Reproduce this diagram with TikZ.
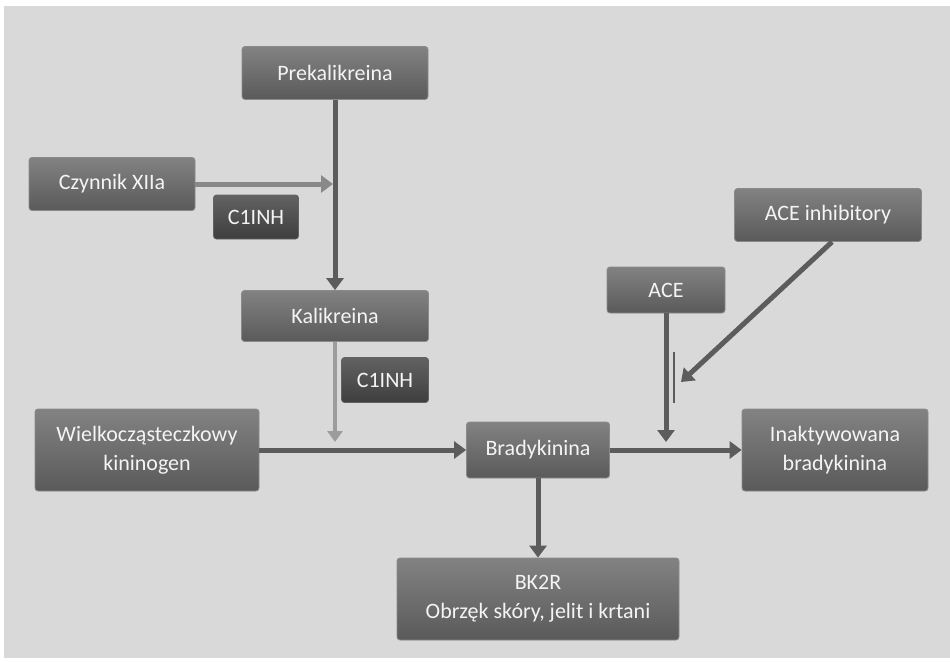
\documentclass[tikz,border=0pt]{standalone}
\usepackage{fontspec}
\setmainfont{Carlito}
\usetikzlibrary{arrows.meta}
\definecolor{bg}{HTML}{D9D9D9}
\definecolor{boxtop}{HTML}{828282}
\definecolor{boxbot}{HTML}{5A5A5A}
\definecolor{boxedge}{HTML}{8A8A8A}
\definecolor{darktop}{HTML}{626262}
\definecolor{darkbot}{HTML}{3E3E3E}
\definecolor{boxtext}{HTML}{F4F4F4}
\definecolor{arrdark}{HTML}{5C5C5C}
\definecolor{arrmid}{HTML}{898989}
\definecolor{arrlight}{HTML}{9C9C9C}
\begin{document}
\begin{tikzpicture}[x=1pt,y=-1pt,
  box/.style={rounded corners=3pt, draw=boxedge, line width=0.8pt, top color=boxtop, bottom color=boxbot, text=boxtext, font=\fontsize{22}{29}\selectfont, align=center, inner sep=0pt},
  inhbox/.style={box, draw=darktop, top color=darktop, bottom color=darkbot},
  arr/.style={draw=arrdark, line width=5pt, -{Triangle[width=17pt,length=12pt]}},
  arrm/.style={draw=arrmid, line width=5pt, -{Triangle[width=17pt,length=12pt]}},
  arrl/.style={draw=arrlight, line width=4pt, -{Triangle[width=15pt,length=11pt]}},
  barline/.style={draw=arrdark, line width=2.5pt}]
\useasboundingbox (0,0) rectangle (950,661);
\fill[white] (0,0) rectangle (950,661);
\fill[bg] (4,6) rectangle (950,658);

\node[box, minimum width=186, minimum height=53] (pre) at (335,73) {Prekalikreina};
\node[box, minimum width=166, minimum height=53] (czy) at (112,184) {Czynnik XIIa};
\node[inhbox, minimum width=85, minimum height=44] (c1) at (256,217) {C1INH};
\node[box, minimum width=187, minimum height=51] (kal) at (335,316) {Kalikreina};
\node[inhbox, minimum width=87, minimum height=45] (c2) at (385,380) {C1INH};
\node[box, minimum width=224, minimum height=82] (kin) at (147,450) {Wielkocząsteczkowy\\kininogen};
\node[box, minimum width=143, minimum height=56] (bra) at (538,450) {Bradykinina};
\node[box, minimum width=186, minimum height=82] (ina) at (835,450) {Inaktywowana\\bradykinina};
\node[box, minimum width=282, minimum height=82] (bk) at (538,599) {BK2R\\Obrzęk skóry, jelit i krtani};
\node[box, minimum width=118, minimum height=46] (ace) at (666,290) {ACE};
\node[box, minimum width=187, minimum height=53] (acei) at (828,215) {ACE inhibitory};

\coordinate (j1) at (333,184);
\coordinate (j2) at (335,442);
\coordinate (j3) at (666,442);
\coordinate (j4) at (681,382);
\coordinate (b1) at (674,352);
\coordinate (b2) at (674,403);

\draw[arr] (pre) -- (kal);
\draw[arrm] (czy.east) -- (j1);
\draw[arrl] (kal.south) -- (j2);
\draw[arr] (kin.east) -- (bra.west);
\draw[arr] (bra.east) -- (ina.west);
\draw[arr] (bra.south) -- (bk.north);
\draw[arr] (ace.south) -- (j3);
\draw[barline] (b1) -- (b2);
\draw[arr] ([xshift=4pt]acei.south) -- (j4);
\end{tikzpicture}
\end{document}
